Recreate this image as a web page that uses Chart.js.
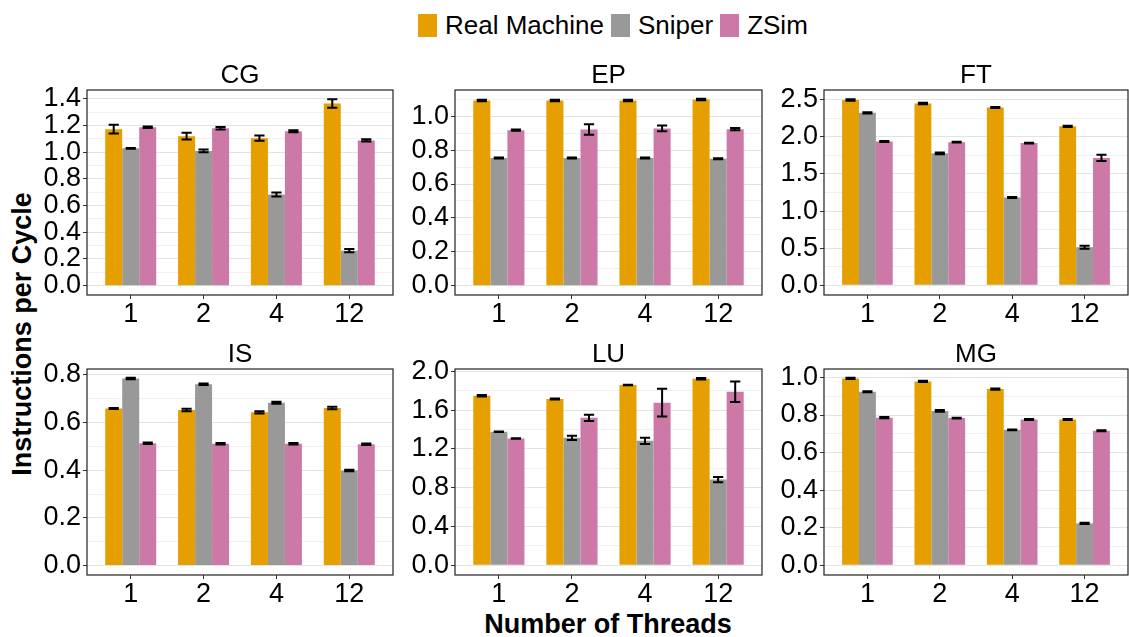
<!DOCTYPE html>
<html>
<head>
<meta charset="utf-8">
<title>Instructions per Cycle</title>
<script src="https://cdn.jsdelivr.net/npm/chart.js@4.4.1/dist/chart.umd.min.js"></script>
<style>
  body {
    margin: 0;
    width: 1129px;
    height: 637px;
    background: #fff;
    position: relative;
    overflow: hidden;
    font-family: "Liberation Sans", Arial, sans-serif;
    color: #000;
  }
  .panel { position: absolute; }
  #legend {
    position: absolute;
    left: 418px;
    top: 10px;
    display: flex;
    align-items: center;
    font-size: 26px;
    white-space: nowrap;
  }
  #legend .key { width: 19px; height: 23px; margin-right: 8px; }
  #legend .txt { margin-right: 7px; }
  #ytitle, #xtitle {
    position: absolute;
    font-weight: bold;
    font-size: 27px;
    white-space: nowrap;
  }
  #ytitle { left: 22px; top: 334px; transform: translate(-50%, -50%) rotate(-90deg); }
  #xtitle { left: 608px; top: 624px; transform: translate(-50%, -50%); }
</style>
</head>
<body>
<div id="legend"></div>
<div id="ytitle">Instructions per Cycle</div>
<div id="xtitle">Number of Threads</div>

<script>
// categories and series
const threads = ["1", "2", "4", "12"];
const series = ["Real Machine", "Sniper", "ZSim"];
const colors = ["#E69F00", "#999999", "#CC79A7"];
const panelNames = ["CG", "EP", "FT", "IS", "LU", "MG"];

// IPC per panel: rows are Real Machine, Sniper, ZSim
const cgIpc = [[1.173, 1.121, 1.106, 1.365], [1.030, 1.010, 0.684, 0.262], [1.188, 1.180, 1.158, 1.089]];
const cgErr = [[0.033, 0.025, 0.020, 0.032], [0.003, 0.010, 0.015, 0.012], [0.005, 0.010, 0.008, 0.008]];

const epIpc = [[1.093, 1.093, 1.093, 1.099], [0.753, 0.753, 0.753, 0.749], [0.918, 0.922, 0.928, 0.924]];
const epErr = [[0.005, 0.005, 0.005, 0.004], [0.003, 0.003, 0.003, 0.003], [0.004, 0.031, 0.017, 0.006]];

const ftIpc = [[2.496, 2.447, 2.394, 2.141], [2.323, 1.778, 1.183, 0.514], [1.937, 1.928, 1.915, 1.715]];
const ftErr = [[0.010, 0.010, 0.008, 0.008], [0.008, 0.012, 0.006, 0.020], [0.008, 0.006, 0.006, 0.042]];

const isIpc = [[0.659, 0.653, 0.643, 0.661], [0.785, 0.761, 0.683, 0.399], [0.513, 0.511, 0.511, 0.509]];
const isErr = [[0.002, 0.005, 0.005, 0.005], [0.003, 0.003, 0.004, 0.003], [0.003, 0.003, 0.003, 0.003]];

const luIpc = [[1.750, 1.716, 1.860, 1.925], [1.377, 1.315, 1.284, 0.884], [1.308, 1.521, 1.678, 1.791]];
const luErr = [[0.008, 0.005, 0.003, 0.008], [0.003, 0.022, 0.032, 0.028], [0.003, 0.033, 0.142, 0.106]];

const mgIpc = [[0.995, 0.979, 0.938, 0.776], [0.924, 0.822, 0.721, 0.223], [0.786, 0.784, 0.776, 0.716]];
const mgErr = [[0.003, 0.003, 0.003, 0.003], [0.003, 0.005, 0.002, 0.003], [0.003, 0.002, 0.003, 0.003]];

// y axis limits and major tick step per panel
const yLimits = [[-0.07, 1.467], [-0.055, 1.155], [-0.13, 2.63], [-0.04, 0.825], [-0.10, 2.025], [-0.052, 1.045]];
const yStep = [0.2, 0.2, 0.5, 0.2, 0.4, 0.2];

const panelIpc = [cgIpc, epIpc, ftIpc, isIpc, luIpc, mgIpc];
const panelErr = [cgErr, epErr, ftErr, isErr, luErr, mgErr];

// plot area boxes on the page: left, top, width, height
const boxes = [
  [87, 89, 306, 206], [455, 89, 307, 206], [824, 89, 304, 206],
  [87, 368, 306, 207], [455, 368, 307, 207], [824, 368, 304, 207]
];

const FONT = "'Liberation Sans', Arial, sans-serif";
const YW = 72, TOPH = 37, XH = 42, PADR = 6;

// legend
const legend = document.getElementById("legend");
series.forEach((name, s) => {
  const key = document.createElement("div");
  key.className = "key";
  key.style.background = colors[s];
  const txt = document.createElement("span");
  txt.className = "txt";
  txt.textContent = name;
  legend.appendChild(key);
  legend.appendChild(txt);
});

const errorBars = {
  id: "errorBars",
  afterDatasetsDraw(chart) {
    const ctx = chart.ctx;
    const y = chart.scales.y;
    ctx.save();
    ctx.strokeStyle = "#000";
    ctx.lineWidth = 2;
    chart.data.datasets.forEach((ds, d) => {
      chart.getDatasetMeta(d).data.forEach((bar, i) => {
        const v = ds.data[i].y, e = ds.errors[i];
        const top = y.getPixelForValue(v + e);
        const bot = y.getPixelForValue(v - e);
        const half = bar.width * 0.3;
        ctx.beginPath();
        ctx.moveTo(bar.x, top); ctx.lineTo(bar.x, bot);
        ctx.moveTo(bar.x - half, top); ctx.lineTo(bar.x + half, top);
        ctx.moveTo(bar.x - half, bot); ctx.lineTo(bar.x + half, bot);
        ctx.stroke();
      });
    });
    ctx.restore();
  }
};

const frame = {
  id: "frame",
  afterDraw(chart) {
    const a = chart.chartArea, ctx = chart.ctx;
    ctx.save();
    ctx.strokeStyle = "#222";
    ctx.lineWidth = 1.2;
    ctx.strokeRect(a.left, a.top, a.right - a.left, a.bottom - a.top);
    ctx.restore();
  }
};

function makePanel(p) {
  const [L, T, W, H] = boxes[p];
  const div = document.createElement("div");
  div.className = "panel";
  div.style.left = (L - YW) + "px";
  div.style.top = (T - TOPH) + "px";
  const canvas = document.createElement("canvas");
  canvas.width = YW + W + PADR;
  canvas.height = TOPH + H + XH;
  div.appendChild(canvas);
  document.body.appendChild(div);

  const step = yStep[p];
  const [ymin, ymax] = yLimits[p];
  const tickVals = [];
  for (let k = 0; k * step / 2 <= ymax + 1e-9; k++) tickVals.push(+(k * step / 2).toFixed(4));
  const isMajor = (v) => Math.abs(v / step - Math.round(v / step)) < 1e-6;

  const datasets = series.map((name, s) => ({
    label: name,
    data: panelIpc[p][s].map((v, i) => ({ x: i + 1, y: v })),
    errors: panelErr[p][s],
    backgroundColor: colors[s],
    borderWidth: 0,
    categoryPercentage: 0.7,
    barPercentage: 1.0
  }));

  new Chart(canvas, {
    type: "bar",
    data: { datasets },
    options: {
      responsive: false,
      animation: false,
      events: [],
      layout: { padding: { left: 0, top: 0, right: PADR, bottom: 0 } },
      plugins: {
        legend: { display: false },
        tooltip: { enabled: false },
        title: {
          display: true,
          fullSize: false,
          text: panelNames[p],
          color: "#000",
          font: { family: FONT, size: 26, weight: "normal", lineHeight: "28px" },
          padding: { top: 10, bottom: 0 }
        }
      },
      scales: {
        x: {
          type: "linear",
          min: 0.4,
          max: 4.6,
          offset: false,
          afterBuildTicks: (scale) => { scale.ticks = threads.map((t, i) => ({ value: i + 1 })); },
          afterFit: (scale) => { scale.height = XH; },
          ticks: {
            callback: (v) => threads[Math.round(v) - 1],
            color: "#000",
            font: { family: FONT, size: 27, lineHeight: 1.0 },
            padding: 2,
            maxRotation: 0,
            autoSkip: false
          },
          grid: { drawOnChartArea: false, offset: false, tickLength: 4, tickColor: "#333", tickWidth: 1 },
          border: { display: false }
        },
        y: {
          min: ymin,
          max: ymax,
          afterBuildTicks: (scale) => { scale.ticks = tickVals.map((v) => ({ value: v })); },
          afterFit: (scale) => { scale.width = YW; },
          ticks: {
            callback: (v) => (isMajor(v) ? v.toFixed(1) : ""),
            color: "#000",
            font: { family: FONT, size: 27, lineHeight: 1.0 },
            padding: 2,
            autoSkip: false
          },
          grid: {
            color: (c) => (c.tick && isMajor(c.tick.value) ? "#e3e3e3" : "#f0f0f0"),
            lineWidth: 1,
            tickLength: 4,
            tickColor: (c) => (c.tick && isMajor(c.tick.value) ? "#333" : "rgba(0,0,0,0)")
          },
          border: { display: false }
        }
      }
    },
    plugins: [errorBars, frame]
  });
}

panelNames.forEach((n, p) => makePanel(p));
</script>
</body>
</html>
